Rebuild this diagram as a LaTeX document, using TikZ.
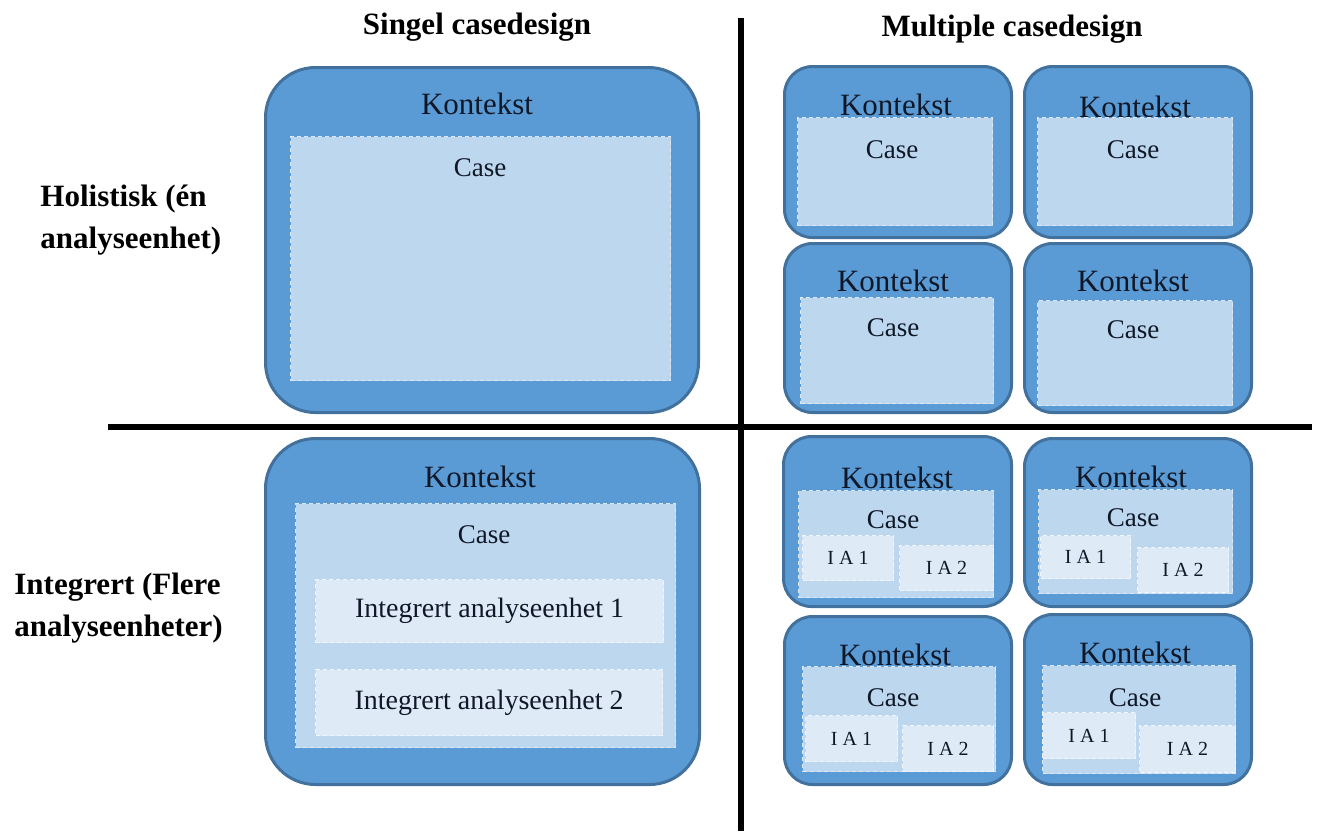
\documentclass[tikz,border=0pt]{standalone}
\usepackage{fontspec}
\setmainfont{Liberation Serif}
\usetikzlibrary{positioning}
\definecolor{ctxfill}{HTML}{5B9BD5}
\definecolor{ctxline}{HTML}{41719C}
\definecolor{casefill}{HTML}{BDD7EE}
\definecolor{caseline}{HTML}{DCE8F5}
\definecolor{iafill}{HTML}{DEEBF7}
\definecolor{ink}{HTML}{101828}

\begin{document}
\begin{tikzpicture}[x=0.5pt, y=-0.5pt, every node/.style={inner sep=0pt, text=ink},
      sz/.style 2 args={minimum width=#1*0.5pt, minimum height=#2*0.5pt},
      ctx/.style={draw=ctxline, fill=ctxfill, line width=1.5pt, rounded corners=25pt, anchor=north west},
      ctxs/.style={ctx, rounded corners=14pt},
      casebox/.style={draw=caseline, fill=casefill, line width=0.6pt, dash pattern=on 2pt off 1.5pt, anchor=north west},
      iabox/.style={draw=white!55!iafill, fill=iafill, line width=0.5pt, dash pattern=on 2pt off 1.5pt, anchor=north west, font=\fontsize{10}{12}\selectfont},
      iawide/.style={iabox, font=\fontsize{14}{16}\selectfont},
      ctxlbl/.style={font=\fontsize{15.5}{18}\selectfont},
      caselbl/.style={font=\fontsize{13.5}{16}\selectfont},
      head/.style={font=\bfseries\fontsize{15.5}{21}\selectfont, align=left, text=black},
      divider/.style={line width=3pt, draw=black}]
    \useasboundingbox (0,0) rectangle (1320,831);
    % quadrant dividers
    \coordinate (vtop) at (741,18); \coordinate (vbot) at (741,831);
    \coordinate (hleft) at (108,427); \coordinate (hright) at (1312,427);
    \draw[divider] (vtop) -- (vbot);
    \draw[divider] (hleft) -- (hright);
    % headings
    \node[head] (single) at (477,27) {Singel casedesign};
    \node[head] (multi) at (1012,29) {Multiple casedesign};
    \node[head, anchor=west] (holist) at (40,220) {Holistisk (én\\analyseenhet)};
    \node[head, anchor=west] (integr) at (14,608) {Integrert (Flere\\analyseenheter)};
    % single, holistic
    \node[ctx, sz={433}{345}] (s1-ctx) at (264,66) {};
    \node[ctxlbl] (s1-ctxt) at (477,104) {Kontekst};
    \node[casebox, sz={380}{244}] (s1-case) at (290,136) {};
    \node[caselbl] (s1-caset) at (480,168) {Case};
    % single, embedded
    \node[ctx, sz={434}{346}] (s2-ctx) at (264,437) {};
    \node[ctxlbl] (s2-ctxt) at (480,477) {Kontekst};
    \node[casebox, sz={380}{244}] (s2-case) at (295,503) {};
    \node[caselbl] (s2-caset) at (484,535) {Case};
    \node[iawide, sz={348}{63}] (s2-ia1) at (315,579) {Integrert analyseenhet 1};
    \node[iawide, sz={347}{66}] (s2-ia2) at (315,669) {Integrert analyseenhet 2};
    % multiple, holistic
    \node[ctxs, sz={227}{171}] (m1-ctx) at (783,65) {};
    \node[ctxlbl] (m1-ctxt) at (896,105) {Kontekst};
    \node[casebox, sz={195}{108}] (m1-case) at (797,117) {};
    \node[caselbl] (m1-caset) at (892,150) {Case};
    \node[ctxs, sz={227}{171}] (m2-ctx) at (1023,65) {};
    \node[ctxlbl] (m2-ctxt) at (1135,107) {Kontekst};
    \node[casebox, sz={195}{108}] (m2-case) at (1037,117) {};
    \node[caselbl] (m2-caset) at (1133,150) {Case};
    \node[ctxs, sz={227}{169}] (m3-ctx) at (783,242) {};
    \node[ctxlbl] (m3-ctxt) at (893,281) {Kontekst};
    \node[casebox, sz={193}{106}] (m3-case) at (800,297) {};
    \node[caselbl] (m3-caset) at (893,328) {Case};
    \node[ctxs, sz={227}{169}] (m4-ctx) at (1023,242) {};
    \node[ctxlbl] (m4-ctxt) at (1133,281) {Kontekst};
    \node[casebox, sz={195}{105}] (m4-case) at (1037,300) {};
    \node[caselbl] (m4-caset) at (1133,330) {Case};
    % multiple, embedded
    \node[ctxs, sz={228}{170}] (n1-ctx) at (782,435) {};
    \node[ctxlbl] (n1-ctxt) at (897,478) {Kontekst};
    \node[casebox, sz={195}{107}] (n1-case) at (798,490) {};
    \node[caselbl] (n1-caset) at (893,520) {Case};
    \node[iabox, sz={91}{45}] (n1-ia1) at (802,535) {I A 1};
    \node[iabox, sz={94}{45}] (n1-ia2) at (899,545) {I A 2};
    \node[ctxs, sz={227}{168}] (n2-ctx) at (1023,437) {};
    \node[ctxlbl] (n2-ctxt) at (1131,477) {Kontekst};
    \node[casebox, sz={194}{104}] (n2-case) at (1038,489) {};
    \node[caselbl] (n2-caset) at (1133,518) {Case};
    \node[iabox, sz={90}{43}] (n2-ia1) at (1040,535) {I A 1};
    \node[iabox, sz={91}{45}] (n2-ia2) at (1137,547) {I A 2};
    \node[ctxs, sz={227}{168}] (n3-ctx) at (783,615) {};
    \node[ctxlbl] (n3-ctxt) at (895,655) {Kontekst};
    \node[casebox, sz={193}{105}] (n3-case) at (802,666) {};
    \node[caselbl] (n3-caset) at (893,698) {Case};
    \node[iabox, sz={92}{46}] (n3-ia1) at (805,715) {I A 1};
    \node[iabox, sz={91}{46}] (n3-ia2) at (902,725) {I A 2};
    \node[ctxs, sz={227}{170}] (n4-ctx) at (1023,613) {};
    \node[ctxlbl] (n4-ctxt) at (1135,653) {Kontekst};
    \node[casebox, sz={193}{108}] (n4-case) at (1042,665) {};
    \node[caselbl] (n4-caset) at (1135,698) {Case};
    \node[iabox, sz={93}{46}] (n4-ia1) at (1042,712) {I A 1};
    \node[iabox, sz={96}{47}] (n4-ia2) at (1139,725) {I A 2};
  \end{tikzpicture}
\end{document}
